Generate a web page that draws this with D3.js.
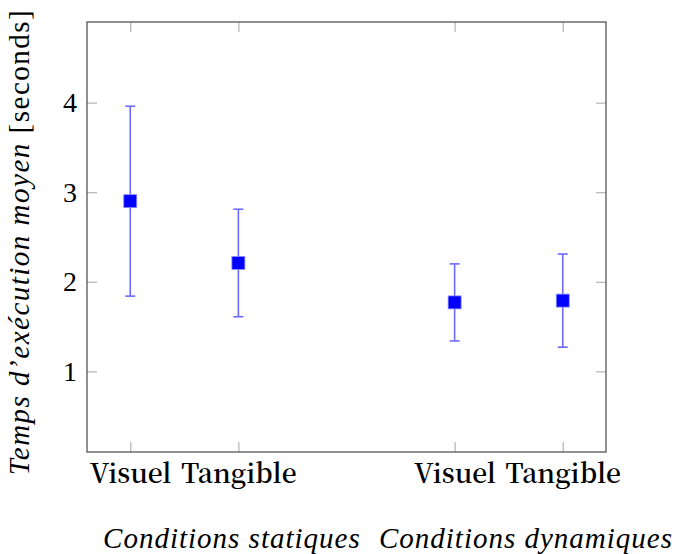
<!DOCTYPE html>
<html>
<head>
<meta charset="utf-8">
<script src="https://cdn.jsdelivr.net/npm/d3@7"></script>
<style>
  html, body { margin: 0; padding: 0; background: #fff; }
  svg { display: block; }
</style>
</head>
<body>
<svg id="chart" width="687" height="554"></svg>
<script>
// ---- data ----
const categories = ["Visuel", "Tangible", "Visuel", "Tangible"];
const xPositions = [1, 2, 4, 5];
const means = [2.90, 2.21, 1.77, 1.79];
const errors = [1.06, 0.60, 0.43, 0.52];
const groupLabels = ["Conditions statiques", "Conditions dynamiques"];
const groupCenters = [1.94, 4.66];
const yTicks = [1, 2, 3, 4];
const yLabelItalic = "Temps d\u2019exécution moyen";
const yLabelUnit = "[seconds]";

// ---- layout ----
const plot = { left: 87, right: 606, top: 22, bottom: 452 };
const svg = d3.select("#chart");
const CM = '"Liberation Serif"';
const CB = '"Noto Serif CJK SC"';

const x = d3.scaleLinear().domain([0.6, 5.4]).range([plot.left, plot.right]);
const y = d3.scaleLinear().domain([0.1, 4.9]).range([plot.bottom, plot.top]);

const tickLen = 10;
const tickColor = "#b3b3b3";
const axisColor = "#555";

function styleTicks(g) {
  g.attr("font-family", null).attr("font-size", null);
  g.select(".domain").remove();
  g.selectAll(".tick line").attr("stroke", tickColor).attr("stroke-width", 1.2);
}

// left axis with labels
const gl = svg.append("g").attr("transform", `translate(${plot.left},0)`)
  .call(d3.axisLeft(y).tickValues(yTicks).tickSize(-tickLen).tickPadding(10).tickFormat(d3.format("d")));
styleTicks(gl);
gl.selectAll(".tick text").style("font-family", CM)
  .style("font-size", "28px").attr("fill", "#000");

const gr = svg.append("g").attr("transform", `translate(${plot.right},0)`)
  .call(d3.axisRight(y).tickValues(yTicks).tickSize(-tickLen).tickFormat(""));
styleTicks(gr);

const gb = svg.append("g").attr("transform", `translate(0,${plot.bottom})`)
  .call(d3.axisBottom(x).tickValues(xPositions).tickSize(-tickLen).tickPadding(0)
    .tickFormat((d, i) => categories[i]));
styleTicks(gb);
gb.selectAll(".tick text").style("font-family", CB).style("font-size", "26.5px")
  .style("font-weight", "600")
  .attr("fill", "#000").attr("dy", null).attr("y", 31);

const gt = svg.append("g").attr("transform", `translate(0,${plot.top})`)
  .call(d3.axisTop(x).tickValues(xPositions).tickSize(-tickLen).tickFormat(""));
styleTicks(gt);

// frame
svg.append("rect")
  .attr("x", plot.left).attr("y", plot.top)
  .attr("width", plot.right - plot.left).attr("height", plot.bottom - plot.top)
  .attr("fill", "none").attr("stroke", axisColor).attr("stroke-width", 1.3);

// error bars
const errColor = "#6b6bff";
const capW = 10;
const pts = xPositions.map((p, i) => ({ p, m: means[i], e: errors[i] }));
const gE = svg.append("g").attr("stroke", errColor).attr("stroke-width", 1.6);
gE.selectAll("line.v").data(pts).join("line").attr("class", "v")
  .attr("x1", d => x(d.p)).attr("x2", d => x(d.p))
  .attr("y1", d => y(d.m - d.e)).attr("y2", d => y(d.m + d.e));
gE.selectAll("line.t").data(pts).join("line").attr("class", "t")
  .attr("x1", d => x(d.p) - capW / 2).attr("x2", d => x(d.p) + capW / 2)
  .attr("y1", d => y(d.m + d.e)).attr("y2", d => y(d.m + d.e));
gE.selectAll("line.b").data(pts).join("line").attr("class", "b")
  .attr("x1", d => x(d.p) - capW / 2).attr("x2", d => x(d.p) + capW / 2)
  .attr("y1", d => y(d.m - d.e)).attr("y2", d => y(d.m - d.e));

// markers
const ms = 13;
svg.append("g").selectAll("rect").data(pts).join("rect")
  .attr("x", d => x(d.p) - ms / 2).attr("y", d => y(d.m) - ms / 2)
  .attr("width", ms).attr("height", ms)
  .attr("fill", "#0000ff").attr("stroke", "#9090ff").attr("stroke-width", 0.8);

// group labels
svg.append("g").selectAll("text").data(groupLabels).join("text")
  .attr("x", (d, i) => x(groupCenters[i])).attr("y", 548)
  .attr("text-anchor", "middle")
  .style("font-family", CM)
  .style("font-style", "italic").style("font-size", "29px")
  .style("letter-spacing", "1px")
  .text(d => d);

// y-axis label
const yl = svg.append("text")
  .attr("transform", `translate(29,242) rotate(-90)`)
  .attr("text-anchor", "middle")
  .style("font-family", CM)
  .style("font-size", "29px").style("letter-spacing", "1.5px");
yl.append("tspan").style("font-style", "italic").text(yLabelItalic);
yl.append("tspan").text(" " + yLabelUnit);
</script>
</body>
</html>
